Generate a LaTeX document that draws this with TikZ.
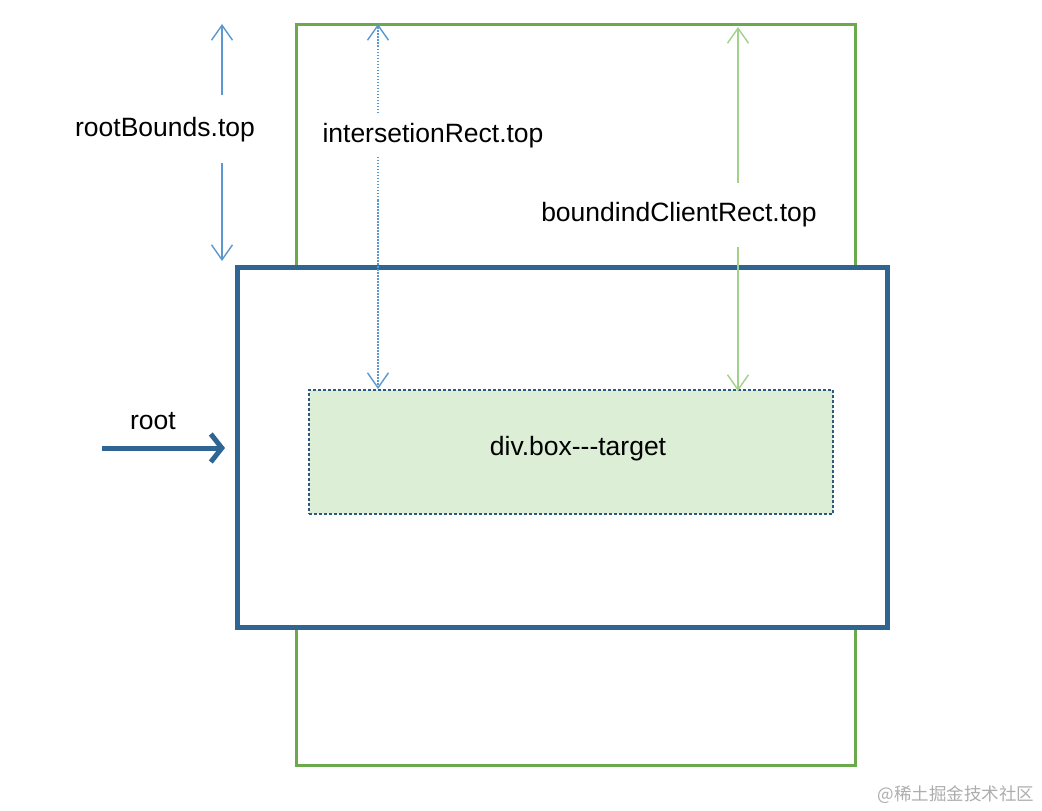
\documentclass[tikz,border=0pt]{standalone}
\usepackage{fontspec}
\setmainfont{Liberation Sans}
\newfontfamily\cjkfont{Noto Sans CJK SC}
\usetikzlibrary{arrows.meta}
\definecolor{framegreen}{RGB}{106,170,76}
\definecolor{rootblue}{RGB}{46,101,146}
\definecolor{thinblue}{RGB}{92,152,208}
\definecolor{lightgreen}{RGB}{160,210,140}
\definecolor{targetfill}{RGB}{220,238,214}
\definecolor{targetline}{RGB}{45,88,128}
\tikzset{
  thinhead/.style={-{Straight Barb[length=15pt,width=21pt,line width=1.4pt]}},
  lbl/.style={font=\fontsize{26.5}{30}\selectfont, inner sep=2pt},
}
\begin{document}
\begin{tikzpicture}[x=1pt,y=-1pt]
\useasboundingbox (0,0) rectangle (1042,811);
% green frame (boundingClientRect area)
\node[draw=framegreen, line width=3pt, minimum width=559pt, minimum height=741pt, inner sep=0pt] (frame) at (575.5,394.5) {};
% root box
\node[draw=rootblue, fill=white, line width=5pt, minimum width=650pt, minimum height=360pt, inner sep=0pt] (root) at (562,447) {};
% target
\node[draw=targetline, fill=targetfill, line width=2.8pt, dash pattern=on 2.6pt off 2.4pt, minimum width=524pt, minimum height=124pt, inner sep=0pt] (target) at (571,452) {};
\node[lbl] (targetlbl) at (578,449) {div.box-{}-{}-target};

% rootBounds.top
\node[lbl] (rb) at (165,130) {rootBounds.top};
\coordinate (rbtop) at (222,24);
\coordinate (rbbot) at (222,261);
\coordinate (rbu) at (222,95);
\coordinate (rbd) at (222,163);
\draw[thinblue, line width=1.4pt, thinhead] (rbu) -- (rbtop);
\draw[thinblue, line width=1.4pt, thinhead] (rbd) -- (rbbot);

% intersetionRect.top
\coordinate (irtop) at (378,24);
\coordinate (irbot) at (378,389);
\draw[thinblue, line width=1.4pt, dash pattern=on 1.5pt off 1.5pt, thinhead] (378,200) -- (irtop);
\draw[thinblue, line width=1.4pt, dash pattern=on 1.5pt off 1.5pt, thinhead] (378,200) -- (irbot);
\node[lbl, fill=white, inner ysep=9pt] (ir) at (433,136) {intersetionRect.top};

% boundindClientRect.top
\coordinate (bctop) at (738,27);
\coordinate (bcbot) at (738,391);
\draw[lightgreen, line width=1.4pt, thinhead] (738,200) -- (bctop);
\draw[lightgreen, line width=1.4pt, thinhead] (738,200) -- (bcbot);
\node[lbl, fill=white, inner ysep=20pt] (bc) at (679,215) {boundindClientRect.top};

% root arrow
\node[lbl] (rootlbl) at (153,421) {root};
\coordinate (rootstart) at (102,448);
\coordinate (rootend) at (225,448);
\draw[rootblue, line width=5pt, -{Straight Barb[length=11pt,width=28pt,line width=5pt]}] (rootstart) -- (rootend);

% watermark
\node[text=black!32, font=\cjkfont\fontsize{17.5}{20}\selectfont, inner sep=0pt] (wm) at (956,795) {@稀土掘金技术社区};
\end{tikzpicture}
\end{document}
